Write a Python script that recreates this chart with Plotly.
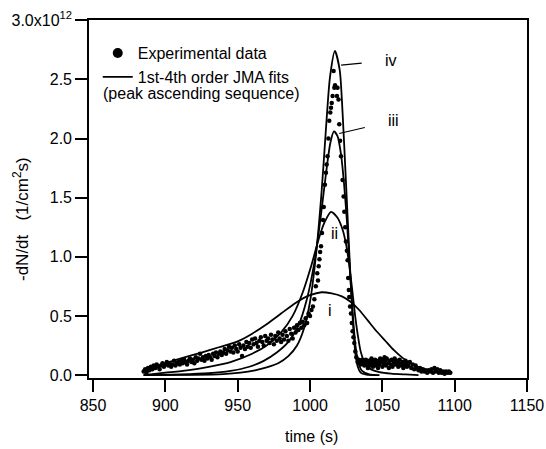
import plotly.graph_objects as go

# ---------------- data (rate values in units of 1e12 1/(cm^2 s)) ----------------
exp_time = [
    885, 886, 887, 888, 889, 890, 891, 892, 893, 894, 895, 896, 897, 898, 899,
    900, 901, 902, 903, 904, 905, 906, 907, 908, 909, 910, 911, 912, 913, 914,
    915, 916, 917, 918, 919, 920, 921, 922, 923, 924, 925, 926, 927, 928, 929,
    930, 931, 932, 933, 934, 935, 936, 937, 938, 939, 940, 941, 942, 943, 944,
    945, 946, 947, 948, 949, 950, 951, 952, 953, 954, 955, 956, 957, 958, 959,
    960, 961, 962, 963, 964, 965, 966, 967, 968, 969, 970, 971, 972, 973, 974,
    975, 976, 977, 978, 979, 980, 981, 982, 983, 984, 985, 986, 987, 988, 989,
    990, 991, 992, 993, 994, 995, 996, 997, 998, 999, 1000, 1001, 1002, 1003,
    1004, 1005, 1005.5, 1006, 1006.5, 1007, 1007.6, 1008.3, 1009, 1009.5, 1010.3,
    1011, 1011.5, 1012.1, 1012.7, 1013.3, 1014, 1014.5, 1015, 1015.6, 1016.3,
    1016.8, 1017.3, 1018.6, 1019, 1019.7, 1020.2, 1020.8, 1021.4, 1022.5, 1023.2,
    1023.7, 1024.3, 1024.8, 1025.5, 1026, 1026.4, 1026.8, 1027.1, 1027.7, 1028.3,
    1028.9, 1029.4, 1030, 1030.6, 1031.3, 1032, 1032.9,
    1033.5, 1034, 1034.5, 1035, 1035.5, 1036, 1036.5, 1037, 1037.5, 1038, 1038.5,
    1039, 1039.5, 1040, 1040.5, 1041, 1041.5, 1042, 1042.5, 1043, 1043.5, 1044,
    1044.5, 1045, 1045.5, 1046, 1047, 1047.5, 1048, 1048.5, 1049, 1050, 1050.5,
    1051, 1051.5, 1052, 1052.5, 1053, 1054, 1054.5, 1055, 1056, 1056.5, 1057,
    1058, 1058.5, 1059, 1060, 1061, 1061.5, 1062, 1063, 1064, 1064.5, 1065, 1066,
    1067, 1067.5, 1068, 1069, 1070, 1071, 1072, 1073, 1074, 1075, 1076, 1077,
    1078, 1079, 1080, 1081, 1082, 1083, 1084, 1085, 1086, 1087, 1088, 1089, 1090,
    1091, 1092, 1093, 1094, 1095, 1096, 1097,
]
exp_rate = [
    0.03, 0.05, 0.02, 0.06, 0.04, 0.07, 0.05, 0.08, 0.06, 0.09, 0.07, 0.05, 0.08, 0.10, 0.07,
    0.09, 0.11, 0.08, 0.10, 0.07, 0.09, 0.12, 0.08, 0.10, 0.11, 0.09, 0.12, 0.10, 0.13, 0.11,
    0.09, 0.12, 0.14, 0.11, 0.13, 0.10, 0.15, 0.12, 0.14, 0.18, 0.13, 0.15, 0.12, 0.16, 0.14,
    0.17, 0.15, 0.13, 0.18, 0.16, 0.19, 0.15, 0.18, 0.20, 0.17, 0.19, 0.22, 0.18, 0.21, 0.24,
    0.20, 0.23, 0.19, 0.25, 0.22, 0.20, 0.26, 0.23, 0.16, 0.25, 0.22, 0.28, 0.24, 0.27, 0.23,
    0.30, 0.26, 0.31, 0.27, 0.24, 0.29, 0.32, 0.28, 0.25, 0.33, 0.29, 0.31, 0.27, 0.34, 0.30,
    0.26, 0.33, 0.29, 0.36, 0.31, 0.28, 0.34, 0.30, 0.37, 0.33, 0.29, 0.39, 0.35, 0.31, 0.40,
    0.36, 0.42, 0.38, 0.44, 0.40, 0.45, 0.42, 0.48, 0.44, 0.52, 0.50, 0.55, 0.58, 0.64,
    0.75, 0.86, 0.80, 0.92, 0.98, 1.04, 1.09, 1.20, 1.31, 1.42, 1.61,
    1.71, 1.78, 1.85, 2.00, 2.15, 2.22, 2.26, 2.30, 2.36, 2.57,
    2.43, 2.45, 2.36, 2.43, 2.33, 2.12, 1.98, 1.85, 1.65, 1.51,
    1.38, 1.25, 1.13, 1.05, 0.97, 0.82, 0.72, 0.66, 0.58, 0.52,
    0.44, 0.37, 0.32, 0.27, 0.20, 0.15, 0.11,
    0.13, 0.10, 0.12, 0.09, 0.11, 0.13, 0.10, 0.12, 0.08, 0.11, 0.13,
    0.09, 0.12, 0.06, 0.10, 0.12, 0.08, 0.11, 0.14, 0.09, 0.07, 0.12,
    0.10, 0.13, 0.08, 0.10, 0.06, 0.12, 0.09, 0.14, 0.11, 0.07, 0.13,
    0.10, 0.15, 0.12, 0.08, 0.14, 0.10, 0.06, 0.12, 0.09, 0.13, 0.07,
    0.11, 0.14, 0.09, 0.12, 0.07, 0.10, 0.13, 0.08, 0.11, 0.06, 0.09, 0.12,
    0.07, 0.10, 0.08, 0.11, 0.06, 0.09, 0.05, 0.08, 0.06, 0.04, 0.06, 0.03,
    0.05, 0.03, 0.04, 0.02, 0.04, 0.03, 0.05, 0.02, 0.06, 0.03, 0.05, 0.02, 0.04,
    0.02, 0.03, 0.01, 0.03, 0.02, 0.03, 0.02,
]

# JMA fits (i: 1st order ... iv: 4th order)
fit1_time = [885, 890, 900, 912, 925, 937, 950, 960, 970, 980, 990, 1000, 1008, 1015,
             1022, 1028, 1034, 1040, 1046, 1052, 1058, 1064, 1070, 1076, 1083, 1090, 1097]
fit1_rate = [0.02, 0.05, 0.10, 0.145, 0.19, 0.235, 0.285, 0.35, 0.43, 0.52, 0.61, 0.675, 0.70,
             0.69, 0.665, 0.62, 0.55, 0.46, 0.37, 0.29, 0.21, 0.145, 0.095, 0.06, 0.035, 0.02, 0.01]

fit2_time = [885, 900, 915, 930, 945, 960, 970, 980, 988, 995, 1001, 1006, 1010,
             1014.5, 1019, 1022.5, 1025, 1027, 1029, 1031, 1033, 1035,
             1038, 1042, 1048, 1056, 1066, 1075]
fit2_rate = [0.0, 0.02, 0.04, 0.07, 0.11, 0.18, 0.25, 0.36, 0.50, 0.70, 0.93, 1.15, 1.29,
             1.38, 1.33, 1.23, 1.10, 0.94, 0.74, 0.52, 0.34, 0.20,
             0.10, 0.05, 0.025, 0.012, 0.005, 0.0]

fit3_time = [885, 910, 930, 945, 958, 968, 977, 985, 992, 998, 1003, 1007, 1011,
             1014, 1016.5, 1019, 1021.5, 1023.5, 1025.5, 1027.5, 1029.5, 1031.5,
             1033.5, 1036, 1041, 1048]
fit3_rate = [0.0, 0.005, 0.015, 0.035, 0.07, 0.12, 0.19, 0.28, 0.42, 0.65, 0.95, 1.30, 1.70,
             1.96, 2.06, 2.02, 1.86, 1.62, 1.30, 0.90, 0.52, 0.24,
             0.10, 0.035, 0.006, 0.0]

fit4_time = [885, 920, 940, 952, 962, 970, 978, 985, 991, 996, 1000, 1004, 1008,
             1011, 1013.8, 1017.2, 1020.5, 1022.5, 1024.5, 1026.5, 1028.5,
             1030, 1031.5, 1033, 1035, 1039, 1045]
fit4_rate = [0.0, 0.002, 0.008, 0.02, 0.04, 0.065, 0.10, 0.16, 0.25, 0.40, 0.62, 1.00, 1.55,
             2.08, 2.52, 2.74, 2.58, 2.22, 1.72, 1.20, 0.70,
             0.38, 0.17, 0.07, 0.02, 0.003, 0.0]

x_ticks = [850, 900, 950, 1000, 1050, 1100, 1150]
y_ticks = [0.0, 0.5, 1.0, 1.5, 2.0, 2.5, 3.0]
y_ticktext = ["0.0", "0.5", "1.0", "1.5", "2.0", "2.5", "3.0x10<sup>12</sup>"]

FONT = "Liberation Sans, Arial, sans-serif"

fig = go.Figure()

fig.add_trace(go.Scatter(x=exp_time, y=exp_rate, mode="markers",
                         marker=dict(color="black", size=4.5),
                         showlegend=False, hoverinfo="skip"))

for ft, fr in [(fit1_time, fit1_rate), (fit2_time, fit2_rate),
               (fit3_time, fit3_rate), (fit4_time, fit4_rate)]:
    fig.add_trace(go.Scatter(x=ft, y=fr, mode="lines",
                             line=dict(color="black", width=1.8, shape="spline", smoothing=0.7),
                             showlegend=False, hoverinfo="skip"))

# legend entries
fig.add_trace(go.Scatter(x=[None], y=[None], mode="markers",
                         marker=dict(color="black", size=10),
                         name="Experimental data"))
fig.add_trace(go.Scatter(x=[None], y=[None], mode="lines",
                         line=dict(color="black", width=1.8),
                         name="1st-4th order JMA fits"))

axis_common = dict(showgrid=False, zeroline=False, showline=True, linecolor="black",
                   linewidth=1.6, mirror=True, ticks="outside", ticklen=12, tickwidth=1.6,
                   tickcolor="black", automargin=False,
                   tickfont=dict(family=FONT, size=16, color="black"))

fig.update_xaxes(range=[847.2, 1150], tickvals=x_ticks, **axis_common)
fig.update_yaxes(range=[-0.025, 3.002], tickvals=y_ticks, ticktext=y_ticktext, **axis_common)

fig.update_layout(
    width=546, height=449,
    margin=dict(l=89, r=19, t=20, b=71, autoexpand=False),
    plot_bgcolor="white", paper_bgcolor="white",
    font=dict(family=FONT, size=16, color="black"),
    legend=dict(x=0.02, y=0.955, xanchor="left", yanchor="top",
                bgcolor="rgba(0,0,0,0)", font=dict(family=FONT, size=16, color="black"),
                tracegroupgap=0),
    annotations=[
        dict(text="(peak ascending sequence)", xref="paper", yref="paper",
             x=(101 - 89) / 438, y=(378 - 94) / 358, xanchor="left", yanchor="middle",
             showarrow=False, font=dict(size=16)),
        dict(text="-dN/dt&nbsp;&nbsp; (1/cm<sup>2</sup>s)", xref="paper", yref="paper",
             x=(21 - 89) / 438, y=(378 - 219) / 358, xanchor="center", yanchor="middle",
             textangle=-90, showarrow=False, font=dict(size=17)),
        dict(text="time (s)", xref="paper", yref="paper",
             x=(311 - 89) / 438, y=(378 - 437) / 358, xanchor="center", yanchor="middle",
             showarrow=False, font=dict(size=16)),
        dict(text="iv", x=1020.8, y=2.62, ax=51, ay=-5, showarrow=True, arrowhead=0,
             arrowwidth=1.2, arrowcolor="black", standoff=1, startstandoff=22,
             font=dict(size=16)),
        dict(text="iii", x=1019.5, y=2.04, ax=55, ay=-13, showarrow=True, arrowhead=0,
             arrowwidth=1.2, arrowcolor="black", standoff=1, startstandoff=22,
             font=dict(size=16)),
        dict(text="ii", x=1016.7, y=1.20, showarrow=False, font=dict(size=16)),
        dict(text="i", x=1014.0, y=0.55, showarrow=False, font=dict(size=16)),
    ],
)

fig.write_html("out.html", config={"displayModeBar": False},
               post_script="document.body.style.margin='0';document.body.style.overflow='hidden';")
